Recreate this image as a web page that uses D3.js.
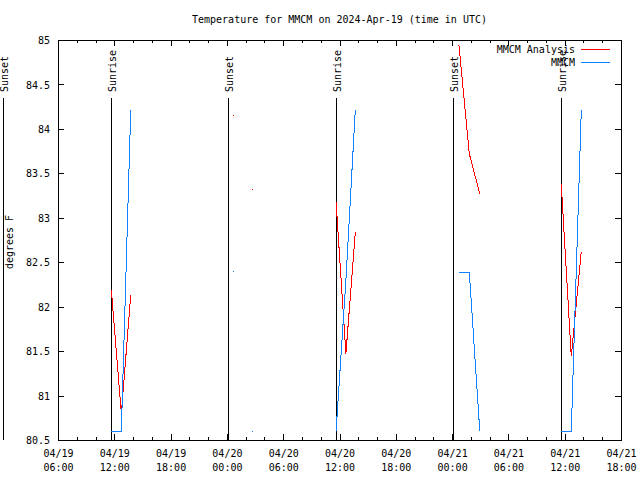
<!DOCTYPE html>
<html><head><meta charset="utf-8">
<script src="https://cdn.jsdelivr.net/npm/d3@7"></script>
<style>
body{margin:0;background:#fff}
svg text{font-family:"DejaVu Sans Mono","Liberation Mono",monospace;font-size:10px;fill:#000}
</style>
</head><body>
<svg id="chart" width="640" height="480"></svg>
<script>
// ---- data ----
const titleText = "Temperature for MMCM on 2024-Apr-19 (time in UTC)";
const yLabel = "degrees F";
const obsTimes = [
  "2024-04-19T11:41Z","2024-04-19T12:45Z","2024-04-19T13:45Z","2024-04-19T14:45Z",
  "2024-04-20T00:41Z","2024-04-20T01:41Z","2024-04-20T02:42Z","2024-04-20T03:42Z",
  "2024-04-20T11:38Z","2024-04-20T12:41Z","2024-04-20T13:41Z","2024-04-20T14:41Z",
  "2024-04-21T00:44Z","2024-04-21T01:50Z","2024-04-21T02:57Z","2024-04-21T03:57Z",
  "2024-04-21T11:38Z","2024-04-21T12:42Z","2024-04-21T13:46Z"
];
const analysisValues = [82.19, 80.80, 82.13, null, 84.16, null, 83.32, null,
  83.18, 81.47, 82.84, null, 84.94, 83.72, 83.27, null, 83.38, 81.44, 82.62];
const mmcmValues = [80.60, 80.60, 84.21, null, 82.40, null, 80.60, null,
  80.60, 82.30, 84.21, null, 82.39, 82.39, 80.60, null, 80.60, 80.60, 84.21];
const seriesNames = ["MMCM Analysis", "MMCM"];
const seriesColors = ["#ff0000", "#0f80ff"];
const sunTimes = ["2024-04-19T00:10Z","2024-04-19T11:41Z","2024-04-20T00:07Z",
  "2024-04-20T11:38Z","2024-04-21T00:08Z","2024-04-21T11:38Z"];
const sunLabels = ["Sunset","Sunrise","Sunset","Sunrise","Sunset","Sunrise"];
const xDomain = ["2024-04-19T06:00Z", "2024-04-21T18:00Z"];
const yTicks = [80.5, 81, 81.5, 82, 82.5, 83, 83.5, 84, 84.5, 85];

// ---- layout ----
const L = 58, R = 621, T = 40, B = 440;
const svg = d3.select("#chart");
const x = d3.scaleUtc().domain(xDomain.map(d => new Date(d))).range([L, R]);
const y = d3.scaleLinear().domain([80.5, 85]).range([B, T]);

svg.append("rect").attr("width",640).attr("height",480).attr("fill","#fff");

// title
svg.append("text").attr("x", (L + R) / 2).attr("y", 23)
  .attr("text-anchor","middle").text(titleText);

// axes
const fmtDate = d3.utcFormat("%m/%d"), fmtTime = d3.utcFormat("%H:%M");
const major = d3.utcHour.every(6), minor = d3.utcHour.every(2);

function styleAxis(g){
  g.select(".domain").remove();
  g.selectAll("line").attr("stroke","#000").attr("shape-rendering","crispEdges");
  g.selectAll("text").attr("font-family",null).attr("font-size",null).attr("fill","#000");
}
// bottom major with labels
const gxb = svg.append("g").attr("transform",`translate(0,${B})`)
  .call(d3.axisBottom(x).ticks(major).tickSize(-6).tickSizeOuter(0).tickPadding(13).tickFormat(d => ""));
styleAxis(gxb);
gxb.selectAll(".tick text").each(function(d){
  const t = d3.select(this);
  t.attr("y", 17).attr("dy", null);
  t.append("tspan").attr("x",0).attr("dy",0).text(fmtDate(d));
  t.append("tspan").attr("x",0).attr("dy",14).text(fmtTime(d));
});
// bottom minor
styleAxis(svg.append("g").attr("transform",`translate(0,${B})`)
  .call(d3.axisBottom(x).ticks(minor).tickSize(-3).tickSizeOuter(0).tickFormat("")));
// top major/minor (mirror)
styleAxis(svg.append("g").attr("transform",`translate(0,${T})`)
  .call(d3.axisTop(x).ticks(major).tickSize(-6).tickSizeOuter(0).tickFormat("")));
styleAxis(svg.append("g").attr("transform",`translate(0,${T})`)
  .call(d3.axisTop(x).ticks(minor).tickSize(-3).tickSizeOuter(0).tickFormat("")));
// left
const gyl = svg.append("g").attr("transform",`translate(${L},0)`)
  .call(d3.axisLeft(y).tickValues(yTicks).tickSize(-6).tickSizeOuter(0).tickPadding(8)
    .tickFormat(d => d3.format("")(d)));
styleAxis(gyl);
gyl.selectAll(".tick text").attr("dy","0.36em");
// right mirror
styleAxis(svg.append("g").attr("transform",`translate(${R},0)`)
  .call(d3.axisRight(y).tickValues(yTicks).tickSize(-6).tickSizeOuter(0).tickFormat("")));

// frame
svg.append("rect").attr("x",L+0.5).attr("y",T+0.5).attr("width",R-L).attr("height",B-T)
  .attr("fill","none").attr("stroke","#000").attr("shape-rendering","crispEdges");

// y label
svg.append("text").attr("transform",`translate(13,${(T+B)/2 + 2}) rotate(-90)`)
  .attr("text-anchor","middle").text(yLabel);

// sunrise / sunset lines
const sunTop = T + 0.145 * (B - T);
sunTimes.forEach((s, i) => {
  const px = Math.round(x(new Date(s))) + 0.5;
  svg.append("line").attr("x1",px).attr("x2",px).attr("y1",sunTop).attr("y2",B)
    .attr("stroke","#000").attr("shape-rendering","crispEdges");
  svg.append("text").attr("transform",`translate(${px + 4.5},${sunTop - 6}) rotate(-90)`)
    .attr("text-anchor","start").text(sunLabels[i]);
});

// series
const times = obsTimes.map(d => new Date(d));
[analysisValues, mmcmValues].forEach((vals, si) => {
  const pts = times.map((t, i) => ({t, v: vals[i]}));
  const line = d3.line().defined(d => d.v != null).x(d => x(d.t)).y(d => y(d.v));
  svg.append("path").attr("d", line(pts)).attr("fill","none")
    .attr("stroke", seriesColors[si]).attr("stroke-width",1).attr("shape-rendering","crispEdges");
  // isolated points
  pts.forEach((p, i) => {
    const prev = pts[i-1], next = pts[i+1];
    if (p.v != null && (!prev || prev.v == null) && (!next || next.v == null)) {
      svg.append("rect").attr("x", Math.round(x(p.t))).attr("y", Math.round(y(p.v)))
        .attr("width",1).attr("height",1).attr("fill", seriesColors[si]);
    }
  });
});

// legend
seriesNames.forEach((n, i) => {
  const cy = 49.5 + i * 13;
  svg.append("text").attr("x",575).attr("y",cy).attr("dy","0.36em")
    .attr("text-anchor","end").text(n);
  svg.append("line").attr("x1",581).attr("x2",610).attr("y1",cy).attr("y2",cy)
    .attr("stroke",seriesColors[i]).attr("shape-rendering","crispEdges");
});
</script>
</body></html>
